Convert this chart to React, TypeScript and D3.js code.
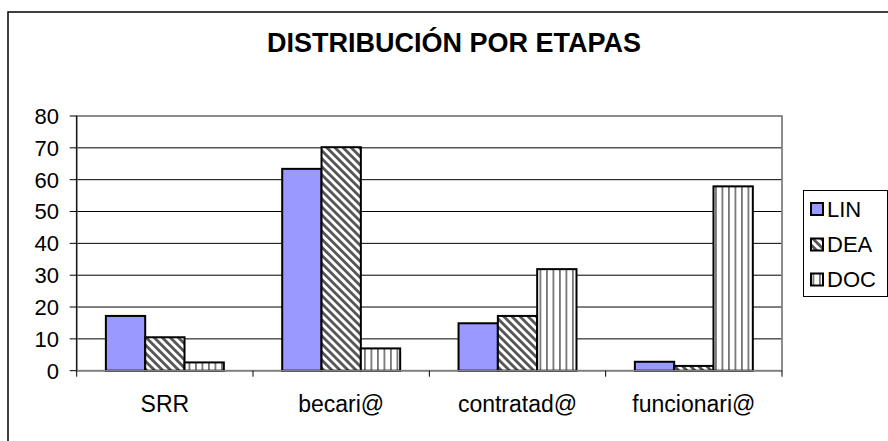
import React from "react";
import * as d3 from "d3";

const categories = ["SRR", "becari@", "contratad@", "funcionari@"];
const seriesNames = ["LIN", "DEA", "DOC"];
const linValues = [17.2, 63.4, 14.9, 2.8];
const deaValues = [10.5, 70.2, 17.2, 1.5];
const docValues = [2.6, 7.0, 31.9, 57.9];
const yTicks = [0, 10, 20, 30, 40, 50, 60, 70, 80];

const W = 888;
const H = 441;
const plotL = 76.7;
const plotR = 782;
const plotT = 116;
const plotB = 370.7;
const FONT = "'Liberation Sans', Arial, sans-serif";

export default function App() {
  const x = d3.scaleBand<string>().domain(categories).range([plotL, plotR]).paddingInner(0.331).paddingOuter(0.1655);
  const xs = d3.scaleBand<string>().domain(seriesNames).range([0, x.bandwidth()]);
  const y = d3.scaleLinear().domain([0, 80]).range([plotB, plotT]);
  const seriesData: number[][] = [linValues, deaValues, docValues];
  const fills = ["#9999FF", "url(#hatchDiag)", "url(#hatchVert)"];
  const step = x.step();
  const boundaries = d3.range(categories.length + 1).map((i) => plotL + i * step);
  const legendY = [209, 244.5, 279.5];

  return (
    <svg width={W} height={H} style={{ position: "absolute", left: 0, top: 0, display: "block", background: "#fff" }} fontFamily={FONT}>
      <defs>
        <pattern id="hatchDiag" patternUnits="userSpaceOnUse" width={5.7} height={8} patternTransform="rotate(-45)">
          <rect width={5.7} height={8} fill="#fff" />
          <rect x={0} y={0} width={2.8} height={8} fill="#555" />
        </pattern>
        <pattern id="hatchVert" patternUnits="userSpaceOnUse" width={6.5} height={8}>
          <rect width={6.5} height={8} fill="#fff" />
          <rect x={0} y={0} width={1.8} height={8} fill="#777" />
        </pattern>
      </defs>
      <rect x={0} y={0} width={W} height={H} fill="#fff" />
      {/* outer frame */}
      <rect x={8} y={12} width={W + 20} height={H + 20} fill="none" stroke="#000" strokeWidth={1.5} />
      {/* title */}
      <text x={454} y={51.7} textAnchor="middle" fontSize={27} fontWeight="bold" fill="#000">
        DISTRIBUCIÓN POR ETAPAS
      </text>
      {/* gridlines */}
      {yTicks.filter((t) => t > 0 && t < 80).map((t) => (
        <line key={"g" + t} x1={plotL} x2={plotR} y1={y(t)} y2={y(t)} stroke="#000" strokeWidth={1} />
      ))}
      {/* plot border */}
      <rect x={plotL} y={plotT} width={plotR - plotL} height={plotB - plotT} fill="none" stroke="#808080" strokeWidth={1.8} />
      {/* bars */}
      {categories.map((c, ci) => (
        <g key={c}>
          {seriesNames.map((s, si) => (
            <rect
              key={s}
              x={(x(c) as number) + (xs(s) as number)}
              y={y(seriesData[si][ci])}
              width={xs.bandwidth()}
              height={plotB - y(seriesData[si][ci])}
              fill={fills[si]}
              stroke="#000"
              strokeWidth={2}
            />
          ))}
        </g>
      ))}
      {/* y axis */}
      <line x1={plotL} x2={plotL} y1={plotT} y2={plotB} stroke="#000" strokeWidth={1} />
      {yTicks.map((t) => (
        <g key={"t" + t}>
          <line x1={plotL - 7} x2={plotL} y1={y(t)} y2={y(t)} stroke="#000" strokeWidth={1} />
          <text x={59} y={y(t)} dy="0.36em" textAnchor="end" fontSize={22} fill="#000">
            {t}
          </text>
        </g>
      ))}
      {/* x axis */}
      <line x1={plotL} x2={plotR} y1={plotB} y2={plotB} stroke="#808080" strokeWidth={1.5} />
      {boundaries.map((bx, i) => (
        <line key={"xt" + i} x1={bx} x2={bx} y1={plotB} y2={plotB + 6} stroke="#000" strokeWidth={1} />
      ))}
      {categories.map((c) => (
        <text key={"l" + c} x={(x(c) as number) + x.bandwidth() / 2} y={411.7} textAnchor="middle" fontSize={23} fill="#000">
          {c}
        </text>
      ))}
      {/* legend */}
      <rect x={803.5} y={190.5} width={84} height={106} fill="#fff" stroke="#000" strokeWidth={1} />
      {seriesNames.map((s, i) => (
        <g key={"lg" + s}>
          <rect x={811} y={legendY[i] - 6} width={12} height={12} fill={fills[i]} stroke="#000" strokeWidth={2} />
          <text x={827} y={legendY[i]} dy="0.36em" fontSize={22} fill="#000">
            {s}
          </text>
        </g>
      ))}
    </svg>
  );
}
